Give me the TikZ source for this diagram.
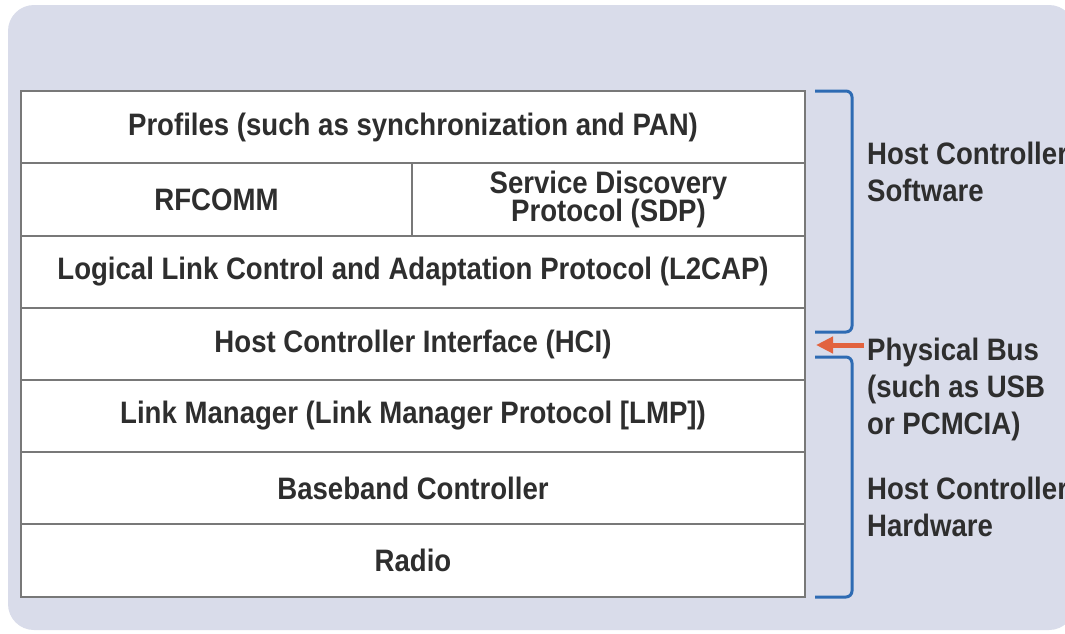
\documentclass[tikz,border=0pt]{standalone}
\usepackage{fontspec}
\setmainfont{Liberation Sans}
\newfontfamily\labfont[FakeStretch=0.89]{Liberation Sans}
\usetikzlibrary{arrows.meta}
\definecolor{bgc}{HTML}{D9DCEA}
\definecolor{gridc}{HTML}{787878}
\definecolor{txtc}{HTML}{2E2E2E}
\definecolor{brc}{HTML}{2E6BB3}
\definecolor{arc}{HTML}{E2633F}
\tikzset{
  cell/.style={draw=gridc, line width=2pt, fill=white, inner sep=0pt, align=center,
    text=txtc, font=\labfont\bfseries\fontsize{31}{30}\selectfont},
  side/.style={inner sep=0pt, align=left, anchor=west, text=txtc,
    font=\labfont\bfseries\fontsize{31}{37}\selectfont},
  bracket/.style={draw=brc, line width=3pt, rounded corners=6pt},
  busarrow/.style={draw=arc, line width=5pt, -{Triangle[length=17pt,width=16pt]}}
}
\begin{document}
\begin{tikzpicture}[x=1pt,y=-1pt]
\useasboundingbox (0,0) rectangle (1065,633);
\fill[white] (0,0) rectangle (1065,633);
\fill[bgc, rounded corners=26pt] (8,5) rectangle (1075,630);

\node[cell, minimum width=784pt, minimum height=72pt] (prof) at (413,127) {Profiles (such as synchronization and PAN)};
\node[cell, minimum width=391pt, minimum height=73pt] (rfc) at (216.5,199.5) {RFCOMM};
\node[cell, minimum width=393pt, minimum height=73pt] (sdp) at (608.5,199.5) {Service Discovery\\[-2pt]Protocol (SDP)};
\node[cell, minimum width=784pt, minimum height=72pt] (l2cap) at (413,272) {Logical Link Control and Adaptation Protocol (L2CAP)};
\node[cell, minimum width=784pt, minimum height=72pt] (hci) at (413,344) {Host Controller Interface (HCI)};
\node[cell, minimum width=784pt, minimum height=72pt] (lmp) at (413,416) {Link Manager (Link Manager Protocol [LMP])};
\node[cell, minimum width=784pt, minimum height=72pt] (bb) at (413,488) {Baseband Controller};
\node[cell, minimum width=784pt, minimum height=73pt] (radio) at (413,560.5) {Radio};

\draw[bracket] (815,91) -- (852,91) -- (852,332) -- (815,332);
\draw[bracket] (815,357) -- (852,357) -- (852,597) -- (815,597);

\node[side] (sw) at (867,172) {Host Controller\\Software};
\node[side] (bus) at (867,389) {Physical Bus\\(such as USB\\or PCMCIA)};
\node[side] (hw) at (867,507) {Host Controller\\Hardware};

\coordinate (tail) at (864,345);
\coordinate (tip) at (816,345);
\draw[busarrow] (tail) -- (tip);
\end{tikzpicture}
\end{document}
